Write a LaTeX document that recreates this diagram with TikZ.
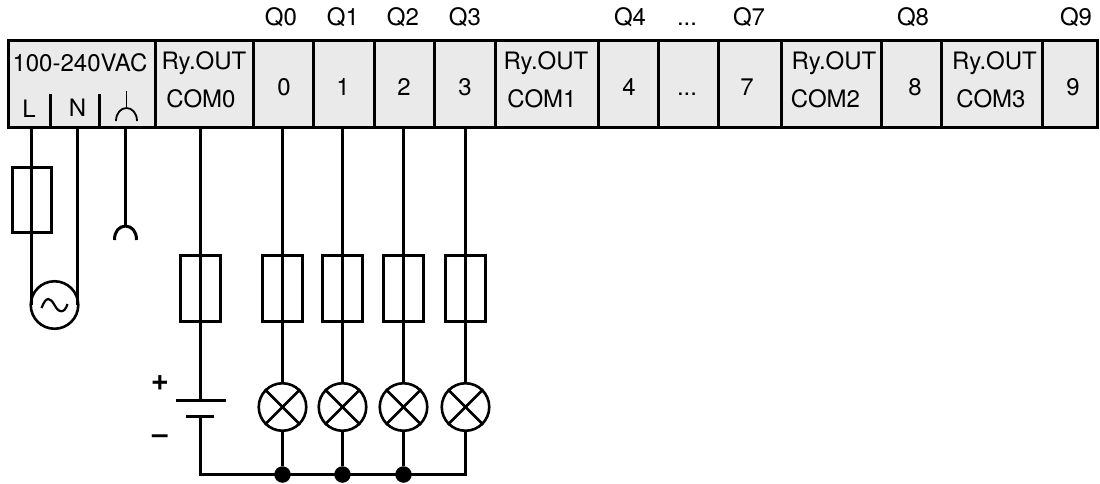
\documentclass[tikz,border=0pt]{standalone}
\usepackage{fontspec}
\setmainfont{TeX Gyre Heros}
\tikzset{
  cellbox/.style={draw=black,line width=3pt,fill=cellgray,rectangle,inner sep=0pt,minimum height=87pt},
  lbl/.style={inner sep=0pt,font=\fontsize{24}{28}\selectfont,text=black},
  wire/.style={draw=black,line width=3pt},
  fusebox/.style={draw=black,line width=3pt,rectangle,inner sep=0pt,minimum width=40pt,minimum height=66pt},
  ring/.style={draw=black,line width=2.6pt,circle,inner sep=0pt,minimum size=47.5pt},
  junction/.style={fill=black,circle,inner sep=0pt,minimum size=16.5pt},
  thinw/.style={draw=black,line width=1.8pt}
}
\definecolor{cellgray}{HTML}{EAEAEA}
\begin{document}
\begin{tikzpicture}[x=1pt,y=-1pt]
\useasboundingbox (0,0) rectangle (1100,483);
% terminal strip
\node[cellbox,minimum width=147pt] (supply) at (81.5,84) {};
\node[cellbox,minimum width=98pt] (com0) at (204,84) {};
\node[cellbox,minimum width=60pt] (c0) at (283,84) {};
\node[cellbox,minimum width=61pt] (c1) at (343.5,84) {};
\node[cellbox,minimum width=60pt] (c2) at (404,84) {};
\node[cellbox,minimum width=61pt] (c3) at (464.5,84) {};
\node[cellbox,minimum width=103pt] (com1) at (546.5,84) {};
\node[cellbox,minimum width=60pt] (c4) at (628,84) {};
\node[cellbox,minimum width=60pt] (cd) at (688,84) {};
\node[cellbox,minimum width=63pt] (c7) at (749.5,84) {};
\node[cellbox,minimum width=100pt] (com2) at (831,84) {};
\node[cellbox,minimum width=60pt] (c8) at (911,84) {};
\node[cellbox,minimum width=101pt] (com3) at (991.5,84) {};
\node[cellbox,minimum width=55pt] (c9) at (1069.5,84) {};
% strip inner dividers
\coordinate (d1) at (50.5,94);
\coordinate (d2) at (99.5,94);
\draw[wire] (d1) -- (d1 |- supply.south);
\draw[wire] (d2) -- (d2 |- supply.south);
\coordinate (gt) at (126.5,91);
\coordinate (gm) at (126.5,108);
\draw[thinw] (gt) -- (gm);
\draw[thinw] (116,121) .. controls (116,113) and (121,108) .. (gm) .. controls (132,108) and (137,113) .. (137,121);
% labels
\node[lbl] (tsup) at (80,63) {100-240VAC};
\node[lbl] (tL) at (29,109) {L};
\node[lbl] (tN) at (77.5,108) {N};
\node[lbl] (t0a) at (204,63) {Ry.OUT};
\node[lbl] (t0b) at (201,99) {COM0};
\node[lbl] (n0) at (284,87) {0};
\node[lbl] (n1) at (343,87) {1};
\node[lbl] (n2) at (404,87) {2};
\node[lbl] (n3) at (465,87) {3};
\node[lbl] (t1a) at (546,63) {Ry.OUT};
\node[lbl] (t1b) at (542,99) {COM1};
\node[lbl] (n4) at (629,87) {4};
\node[lbl] (nd) at (687,94) {...};
\node[lbl] (n7) at (747,87) {7};
\node[lbl] (t2a) at (834,63) {Ry.OUT};
\node[lbl] (t2b) at (825.5,99) {COM2};
\node[lbl] (n8) at (915,87) {8};
\node[lbl] (t3a) at (994.5,63) {Ry.OUT};
\node[lbl] (t3b) at (991,99) {COM3};
\node[lbl] (n9) at (1073,87) {9};
\node[lbl] (q0) at (281,17) {Q0};
\node[lbl] (q1) at (343,17) {Q1};
\node[lbl] (q2) at (403,17) {Q2};
\node[lbl] (q3) at (465,17) {Q3};
\node[lbl] (q4) at (630,17) {Q4};
\node[lbl] (qd) at (687,24) {...};
\node[lbl] (q7) at (749,17) {Q7};
\node[lbl] (q8) at (913,17) {Q8};
\node[lbl] (q9) at (1076,17) {Q9};
% supply side
\node[ring] (ac) at (54.5,305) {};
\coordinate (wL) at (31.5,305);
\coordinate (wN) at (77.5,305);
\coordinate (gnd) at (125.5,226);
\draw[wire] (wL) -- (wL |- supply.south);
\draw[wire] (wN) -- (wN |- supply.south);
\draw[wire] (gnd) -- (gnd |- supply.south);
\node[fusebox,minimum width=39pt,minimum height=65pt] (fL) at (32,200) {};
\draw[wire] (114.5,240) .. controls (114.5,231) and (119,226.5) .. (gnd) .. controls (132,226.5) and (136.5,231) .. (136.5,240);
\draw[wire,line width=2.2pt,shift={(ac.center)}] (-13,3) .. controls (-8,-10) and (-4,-7) .. (0,0) .. controls (4,8) and (10,9) .. (13,-1);
% outputs
\node[ring] (l0) at (282.5,407) {};
\node[ring] (l1) at (342.5,407) {};
\node[ring] (l2) at (403.5,407) {};
\node[ring] (l3) at (465.5,407) {};
\foreach \n in {0,1,2,3}{
  \draw[wire] (l\n.north) -- (l\n.north |- c\n.south);
  \node[fusebox] (f\n) at (l\n.center |- 0,288.5) {};
  \draw[wire,line width=2.6pt] (l\n.45) -- (l\n.225);
  \draw[wire,line width=2.6pt] (l\n.135) -- (l\n.315);
}
% battery
\coordinate (bat) at (200.5,400.5);
\coordinate (batl) at (200.5,416.5);
\coordinate (btm) at (200.5,474.5);
\coordinate (tp) at (176,400.5);
\coordinate (tq) at (226,400.5);
\coordinate (up) at (186,416.5);
\coordinate (uq) at (214,416.5);
\draw[wire] (bat) -- (bat |- com0.south);
\node[fusebox] (fc) at (bat |- 0,288.5) {};
\draw[wire] (tp) -- (tq);
\draw[wire] (up) -- (uq);
\node[junction] (j0) at (l0 |- btm) {};
\node[junction] (j1) at (l1 |- btm) {};
\node[junction] (j2) at (l2 |- btm) {};
\coordinate (j3) at (l3 |- btm);
\draw[wire,line join=miter] (batl) -- (btm) -- (j3) -- (l3.south);
\draw[wire] (l0.south) -- (j0);
\draw[wire] (l1.south) -- (j1);
\draw[wire] (l2.south) -- (j2);
\node[lbl,font=\fontsize{31}{34}\selectfont\bfseries] (plus) at (160,383) {+};
\node[lbl,font=\fontsize{28}{32}\selectfont\bfseries] (minus) at (160,439) {–};
\end{tikzpicture}
\end{document}
